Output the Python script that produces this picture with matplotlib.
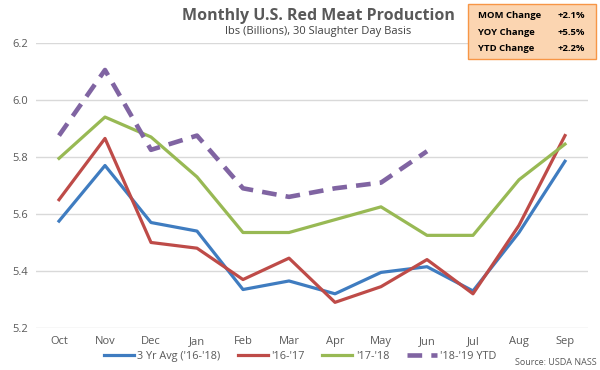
import matplotlib
matplotlib.use('Agg')
import matplotlib.pyplot as plt
from matplotlib.patches import FancyBboxPatch

plt.rcParams['font.family'] = ['Open Sans', 'DejaVu Sans']

months = ['Oct', 'Nov', 'Dec', 'Jan', 'Feb', 'Mar', 'Apr', 'May', 'Jun', 'Jul', 'Aug', 'Sep']
avg3 = [5.575, 5.77, 5.57, 5.54, 5.335, 5.365, 5.32, 5.395, 5.415, 5.33, 5.535, 5.785]
y1617 = [5.65, 5.865, 5.50, 5.48, 5.37, 5.445, 5.29, 5.345, 5.44, 5.32, 5.56, 5.875]
y1718 = [5.795, 5.94, 5.87, 5.73, 5.535, 5.535, 5.58, 5.625, 5.525, 5.525, 5.72, 5.845]
y1819 = [5.875, 6.105, 5.825, 5.875, 5.69, 5.66, 5.69, 5.71, 5.82]
yticks = [5.2, 5.4, 5.6, 5.8, 6.0, 6.2]
box_labels = ['MOM Change', 'YOY Change', 'YTD Change']
box_values = ['+2.1%', '+5.5%', '+2.2%']

fig = plt.figure(figsize=(6, 3.7), dpi=100)
ax = fig.add_axes([0.06, 0.1135, 0.92, 0.7705])

x = list(range(len(months)))
ax.plot(x, avg3, color='#3F7CC0', lw=2.3, label="3 Yr Avg ('16-'18)")
ax.plot(x, y1617, color='#BE4B48', lw=2.3, label="'16-'17")
ax.plot(x, y1718, color='#98B954', lw=2.3, label="'17-'18")
ax.plot(x[:len(y1819)], y1819, color='#8064A2', lw=3.3, ls=(0, (3.2, 2.0)),
        label="'18-'19 YTD")

ax.set_xlim(-0.5, len(months) - 0.5)
ax.set_ylim(5.2, 6.2)
ax.set_yticks(yticks)
ax.set_yticklabels(['%.1f' % v for v in yticks])
ax.set_xticks(x)
ax.set_xticklabels(months)
ax.tick_params(length=0, labelsize=8, colors='#595959', pad=6)
ax.grid(axis='y', color='#D9D9D9', lw=1)
ax.set_axisbelow(True)
for s in ax.spines.values():
    s.set_visible(False)

fig.text(0.53, 0.958, 'Monthly U.S. Red Meat Production', ha='center', va='center',
         fontsize=11.5, fontweight='bold', color='#595959')
fig.text(0.53, 0.914, 'lbs (Billions), 30 Slaughter Day Basis', ha='center', va='center',
         fontsize=8, color='#404040')

# change box
box = FancyBboxPatch((0.78, 0.84), 0.214, 0.15, boxstyle='square,pad=0',
                     transform=fig.transFigure, facecolor='#FBD5B1',
                     edgecolor='#F79646', lw=1)
fig.patches.append(box)
for i, (lab, val) in enumerate(zip(box_labels, box_values)):
    yy = 0.957 - i * 0.044
    fig.text(0.797, yy, lab, fontsize=6.8, fontweight='bold', ha='left', va='center')
    fig.text(0.975, yy, val, fontsize=6.8, fontweight='bold', ha='right', va='center')

leg = fig.legend(loc='center', bbox_to_anchor=(0.5, 0.037), ncol=4, frameon=False,
                 fontsize=7.8, handlelength=2.8, columnspacing=1.6, handletextpad=0.3,
                 borderaxespad=0)
for t in leg.get_texts():
    t.set_color('#595959')

fig.text(0.995, 0.02, 'Source: USDA NASS', ha='right', va='center', fontsize=6.5,
         color='#595959')

fig.savefig('out.png', dpi=100)
